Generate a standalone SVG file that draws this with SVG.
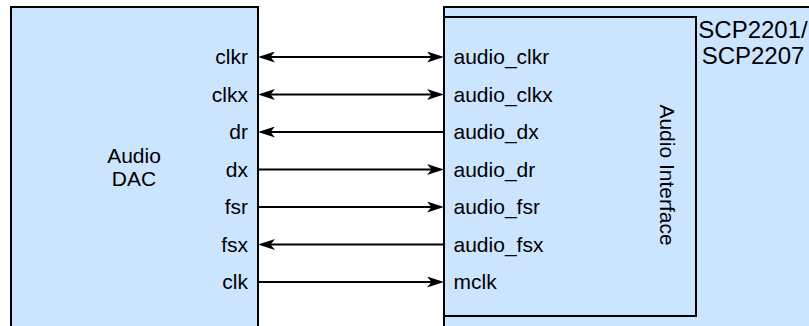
<svg xmlns="http://www.w3.org/2000/svg" width="809" height="326" viewBox="0 0 809 326">
<style>
.box{fill:#cce5ff;stroke:#000;stroke-width:2}
.t{font-family:"Liberation Sans",Arial,sans-serif;font-size:21px;fill:#000}
.end{text-anchor:end}
.mid{text-anchor:middle}
.big{font-size:24px}
.c{stroke:#000;stroke-width:2;fill:none}
</style>
<defs>
<marker id="ah" markerUnits="userSpaceOnUse" markerWidth="17" markerHeight="11" refX="9" refY="5.5" orient="auto-start-reverse" viewBox="0 0 17 11">
<path d="M0,0 L17,5.5 L0,11 L4.5,5.5 Z" fill="#000"/>
</marker>
</defs>
<rect width="809" height="326" fill="#fff"/>
<g id="audio-dac">
<rect class="box" x="11" y="7" width="247" height="330"/>
<text class="t mid" x="134" y="163">Audio</text>
<text class="t mid" x="134" y="186">DAC</text>
<text class="t end" x="248" y="64">clkr</text>
<text class="t end" x="248" y="101.5">clkx</text>
<text class="t end" x="248" y="139">dr</text>
<text class="t end" x="248" y="176.5">dx</text>
<text class="t end" x="248" y="214">fsr</text>
<text class="t end" x="248" y="251.5">fsx</text>
<text class="t end" x="248" y="289">clk</text>
</g>
<g id="scp">
<rect class="box" x="444" y="7" width="380" height="330"/>
<text class="t big mid" x="753" y="37.5">SCP2201/</text>
<text class="t big mid" x="753" y="63.5">SCP2207</text>
</g>
<g id="audio-interface">
<rect class="box" x="444" y="17" width="252" height="299"/>
<text class="t" x="453.5" y="64">audio_clkr</text>
<text class="t" x="453.5" y="101.5">audio_clkx</text>
<text class="t" x="453.5" y="139">audio_dx</text>
<text class="t" x="453.5" y="176.5">audio_dr</text>
<text class="t" x="453.5" y="214">audio_fsr</text>
<text class="t" x="453.5" y="251.5">audio_fsx</text>
<text class="t" x="453.5" y="289">mclk</text>
<text class="t mid" transform="translate(660,175) rotate(90)">Audio Interface</text>
</g>
<g id="connectors">
<line class="c" x1="266" y1="57" x2="436" y2="57" marker-start="url(#ah)" marker-end="url(#ah)"/>
<line class="c" x1="266" y1="94.5" x2="436" y2="94.5" marker-start="url(#ah)" marker-end="url(#ah)"/>
<line class="c" x1="266" y1="132" x2="444" y2="132" marker-start="url(#ah)"/>
<line class="c" x1="258" y1="169.5" x2="436" y2="169.5" marker-end="url(#ah)"/>
<line class="c" x1="258" y1="207" x2="436" y2="207" marker-end="url(#ah)"/>
<line class="c" x1="266" y1="244.5" x2="444" y2="244.5" marker-start="url(#ah)"/>
<line class="c" x1="258" y1="282" x2="436" y2="282" marker-end="url(#ah)"/>
</g>
</svg>
